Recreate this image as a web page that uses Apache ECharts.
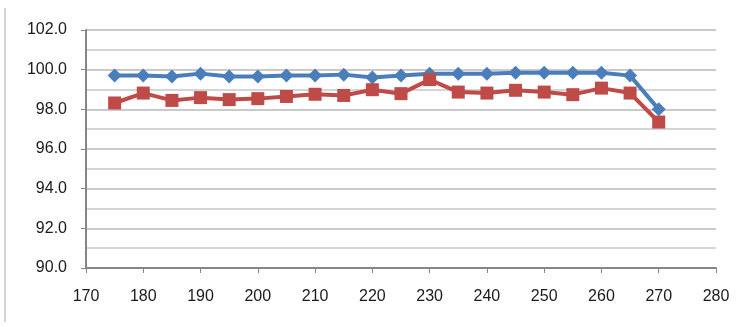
<!DOCTYPE html>
<html><head><meta charset="utf-8">
<script src="https://cdn.jsdelivr.net/npm/echarts@6/dist/echarts.min.js"></script>
<style>html,body{margin:0;padding:0;background:#fff}#c{width:750px;height:327px}</style>
</head><body><div id="c"></div>
<script>
const xValues = [175,180,185,190,195,200,205,210,215,220,225,230,235,240,245,250,255,260,265,270];
const blueSeries = [99.7,99.7,99.65,99.8,99.65,99.65,99.7,99.7,99.75,99.6,99.7,99.8,99.8,99.8,99.85,99.85,99.85,99.85,99.7,98.0];
const redSeries = [98.32,98.82,98.45,98.59,98.49,98.54,98.65,98.76,98.7,98.99,98.79,99.5,98.87,98.82,98.96,98.87,98.74,99.07,98.82,97.36];
const xTicks = {min:170, max:280, interval:10};
const yTicks = {min:90, max:102, interval:2};

const chart = echarts.init(document.getElementById('c'));
const font = 'Liberation Sans, Arial, sans-serif';
chart.setOption({
  animation:false,
  grid:{left:86,right:34,top:30,bottom:59},
  xAxis:{type:'value',min:xTicks.min,max:xTicks.max,interval:xTicks.interval,
    axisLine:{lineStyle:{color:'#868686',width:2}},
    axisTick:{show:true,length:5,lineStyle:{color:'#868686'}},
    splitLine:{show:false},
    axisLabel:{color:'#1a1a1a',fontSize:16,fontFamily:font,margin:21}},
  yAxis:{type:'value',min:yTicks.min,max:yTicks.max,interval:yTicks.interval,
    axisLine:{show:true,lineStyle:{color:'#868686',width:2}},
    axisTick:{show:true,length:5,lineStyle:{color:'#868686'}},
    splitLine:{show:true,lineStyle:{color:'#b8b8b8',width:1.5}},
    minorTick:{show:false,splitNumber:2},
    minorSplitLine:{show:true,lineStyle:{color:'#c8c8c8',width:1.5}},
    axisLabel:{color:'#1a1a1a',fontSize:16,fontFamily:font,margin:19,formatter:v=>v.toFixed(1)}},
  graphic:[{type:'line',shape:{x1:5,y1:8,x2:5,y2:322},style:{stroke:'#aaa',lineWidth:1}}],
  series:[
    {type:'line',data:xValues.map((x,i)=>[x,blueSeries[i]]),symbol:'diamond',symbolSize:[14,14],
      lineStyle:{color:'#4a7ebb',width:4},itemStyle:{color:'#4a7ebb'}},
    {type:'line',data:xValues.map((x,i)=>[x,redSeries[i]]),symbol:'rect',symbolSize:13,
      lineStyle:{color:'#be4b48',width:4},itemStyle:{color:'#be4b48'}}
  ]
});
</script></body></html>
